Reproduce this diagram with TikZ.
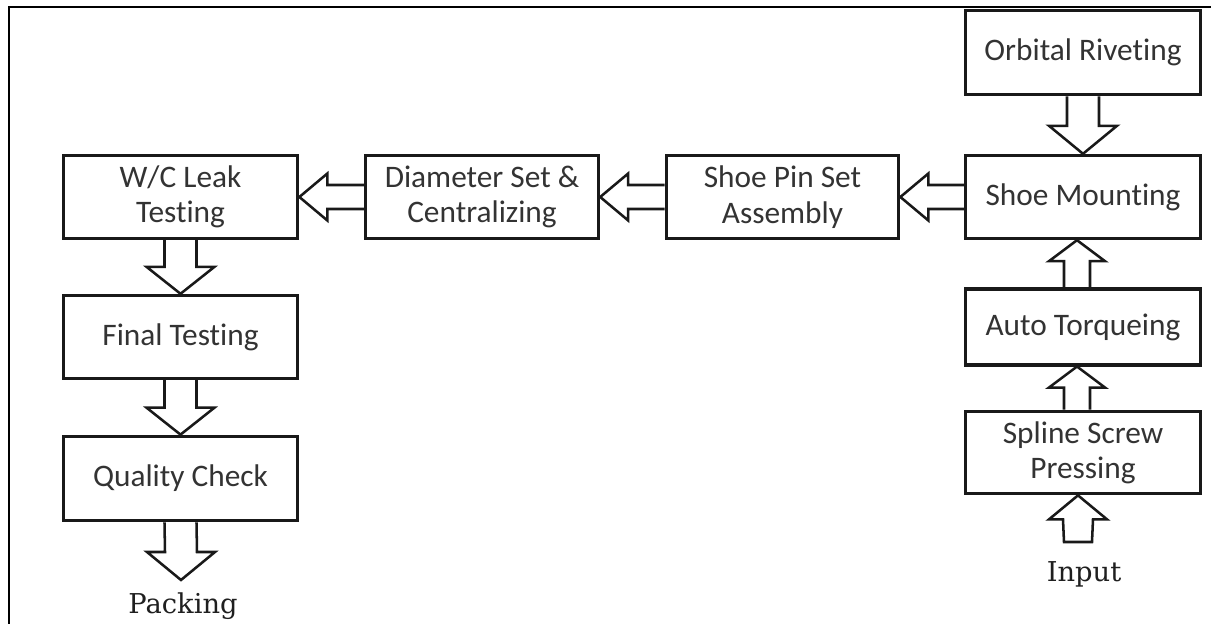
\documentclass[tikz,border=0pt]{standalone}
\usepackage{fontspec}
\newfontfamily\boxfont[Ligatures={NoCommon}]{Carlito}
\newfontfamily\lblfont{DejaVu Serif}
\usetikzlibrary{calc}
\tikzset{
  box/.style={draw=black!90, line width=2.3pt, minimum width=176pt, align=center,
    font=\boxfont\fontsize{23.5}{26.5}\selectfont, text=black!80, inner sep=2pt},
  blk/.style={draw=black!90, line width=1.9pt, line join=miter},
  lbl/.style={font=\lblfont\fontsize{20.5}{24}\selectfont, text=black!88, inner sep=0pt},
  frame/.style={draw=black, line width=1.6pt}
}
\newcommand{\blkdown}[6]{% A B shaft head len dx
  \draw[blk] ($(#1.south)+(#6-#3,0)$) -- ($(#2.north)+(#6-#3,-#5)$) -- ($(#2.north)+(#6-#4,-#5)$)
   -- ($(#2.north)+(#6,0)$) -- ($(#2.north)+(#6+#4,-#5)$) -- ($(#2.north)+(#6+#3,-#5)$) -- ($(#1.south)+(#6+#3,0)$);}
\newcommand{\blkup}[6]{% A(below) B(above) shaft head len dx
  \draw[blk] ($(#1.north)+(#6-#3,0)$) -- ($(#2.south)+(#6-#3,#5)$) -- ($(#2.south)+(#6-#4,#5)$)
   -- ($(#2.south)+(#6,0)$) -- ($(#2.south)+(#6+#4,#5)$) -- ($(#2.south)+(#6+#3,#5)$) -- ($(#1.north)+(#6+#3,0)$);}
\newcommand{\blkleft}[5]{% A(right) B(left) shaft head len
  \draw[blk] ($(#1.west)+(0,-#3)$) -- ($(#2.east)+(#5,-#3)$) -- ($(#2.east)+(#5,-#4)$)
   -- (#2.east) -- ($(#2.east)+(#5,#4)$) -- ($(#2.east)+(#5,#3)$) -- ($(#1.west)+(0,#3)$);}
\begin{document}
\begin{tikzpicture}[x=0.75pt,y=-0.75pt]
\useasboundingbox (0,0) rectangle (1211,624);
\draw[frame] (9,624) -- (9,7) -- (1211,7);

\node[box, minimum height=63.5pt] (orb) at (1083,52.5) {Orbital Riveting};
\node[box, minimum height=62.5pt] (shoe) at (1083,197) {Shoe Mounting};
\node[box, minimum height=57pt] (auto) at (1083,327) {Auto Torqueing};
\node[box, minimum height=62pt] (spline) at (1083,452.5) {Spline Screw\\Pressing};
\node[box, minimum height=62.5pt, minimum width=174.5pt] (pin) at (782.5,197) {Shoe Pin Set\\Assembly};
\node[box, minimum height=62.5pt, minimum width=175pt] (dia) at (482,197) {Diameter Set \&\\Centralizing};
\node[box, minimum height=62.5pt] (wc) at (180.5,197) {W/C Leak\\Testing};
\node[box, minimum height=62.5pt] (fin) at (180.5,337) {Final Testing};
\node[box, minimum height=63.5pt] (qc) at (180.5,478.5) {Quality Check};

\node[lbl] (pack) at (183,606) {Packing};
\node[lbl] (inp) at (1084,574) {Input};
\coordinate (pktip) at (181,580);
\coordinate (inbot) at (1078,542);

% arrows
\blkdown{orb}{shoe}{16}{34}{28}{0}
\blkdown{wc}{fin}{16}{34}{27}{0}
\blkdown{fin}{qc}{16}{34}{27}{0}
\draw[blk] ($(qc.south)+(-16,0)$) -- ($(pktip)+(-16,-28)$) -- ($(pktip)+(-34,-28)$) -- (pktip)
   -- ($(pktip)+(34,-28)$) -- ($(pktip)+(16,-28)$) -- ($(qc.south)+(16,0)$);
\blkup{auto}{shoe}{13}{28}{21}{-6}
\blkup{spline}{auto}{13}{28}{21}{-6}
\draw[blk] ($(inbot)+(-14,0)$) -- ($(spline.south)+(-20,24)$) -- ($(spline.south)+(-34,24)$)
   -- ($(spline.south)+(-5,0)$) -- ($(spline.south)+(24,24)$) -- ($(spline.south)+(10,24)$) -- ($(inbot)+(14,0)$) -- cycle;
\blkleft{shoe}{pin}{12}{23.5}{28}
\blkleft{pin}{dia}{12}{23.5}{28}
\blkleft{dia}{wc}{12}{23.5}{28}
\end{tikzpicture}
\end{document}
